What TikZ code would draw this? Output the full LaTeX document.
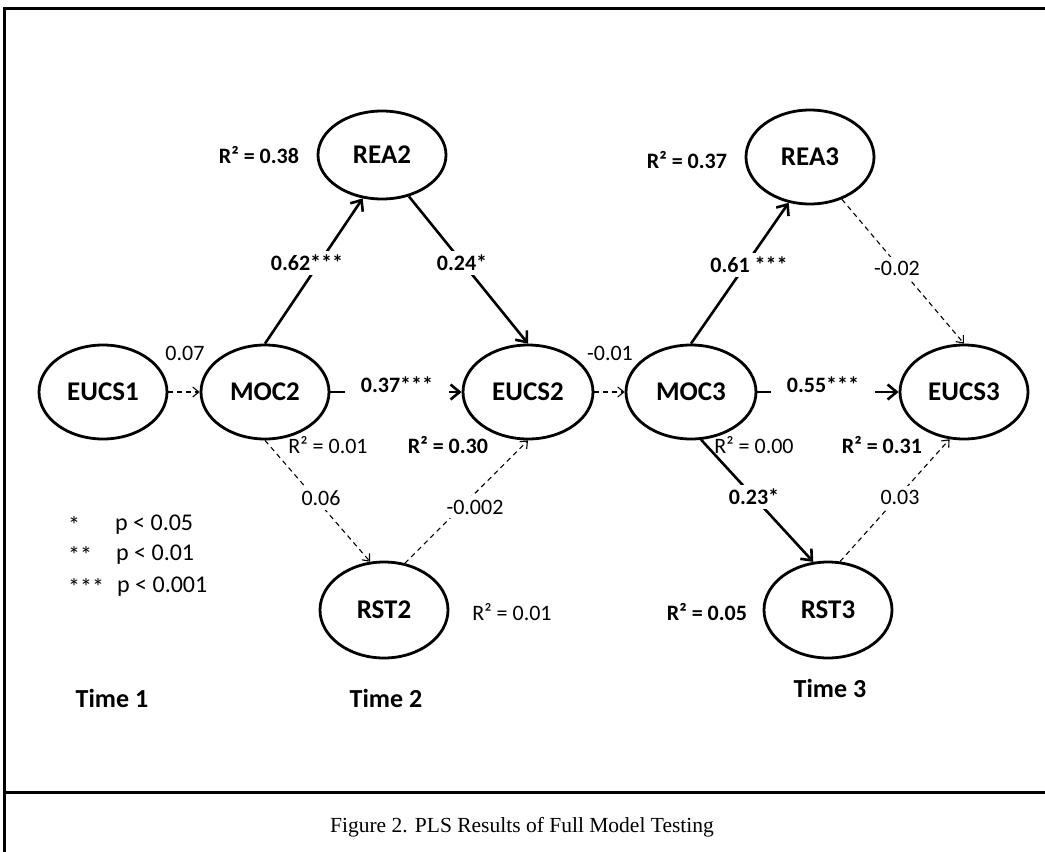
\documentclass[tikz,border=0pt]{standalone}
\usepackage{fontspec}
\setmainfont{Carlito}
\newfontfamily\capfont{Liberation Serif}
\usetikzlibrary{shapes.geometric,arrows.meta}
\begin{document}
\begin{tikzpicture}[x=1pt,y=-1pt,
  lv/.style={ellipse,draw,line width=2.8pt,minimum width=128pt,minimum height=94pt,inner sep=0pt,font=\fontsize{27}{30}\selectfont\bfseries},
  sig/.style={line width=2.6pt,-{Straight Barb[length=9pt,width=15pt,line width=2.6pt]}},
  ns/.style={line width=1.1pt,dash pattern=on 5pt off 4pt,-{Straight Barb[length=6pt,width=10pt,line width=1.1pt]}},
  bl/.style={font=\fontsize{22}{26}\selectfont\bfseries,inner sep=1pt},
  nl/.style={font=\fontsize{22}{26}\selectfont,inner sep=1pt},
  lg/.style={font=\fontsize{24}{28}\selectfont,inner sep=0pt,anchor=west},
  tm/.style={font=\fontsize{26}{30}\selectfont\bfseries,inner sep=0pt},
  gap/.style={fill=white,inner xsep=6pt,inner ysep=4pt},
 ]
\useasboundingbox (0,0) rectangle (1045,852);
% frame
\draw[line width=3pt] (1045,8) -- (4,8) -- (4,852);
\draw[line width=3pt] (4,792) -- (1045,792);
\node[font=\capfont\fontsize{21.5}{25}\selectfont,inner sep=0pt] (cap) at (522,827) {Figure 2. PLS Results of Full Model Testing};

% latent variables
\node[lv,minimum height=88pt] (rea2) at (382,155) {REA2};
\node[lv] (rea3) at (810,157) {REA3};
\node[lv] (eucs1) at (103,392) {EUCS1};
\node[lv] (moc2) at (265,392) {MOC2};
\node[lv,minimum width=130pt] (eucs2) at (528,392) {EUCS2};
\node[lv,minimum width=130pt] (moc3) at (691,392) {MOC3};
\node[lv] (eucs3) at (964,392) {EUCS3};
\node[lv,minimum height=96pt] (rst2) at (384,610) {RST2};
\node[lv,minimum height=96pt] (rst3) at (828,610) {RST3};

% paths
\draw[sig] (moc2.north) -- (rea2.246);
\draw[sig] (rea2.303) -- (eucs2.north);
\draw[sig] (moc3.north) -- (rea3.245);
\draw[ns] (rea3.307) -- (eucs3.north);
\draw[ns] (eucs1) -- (moc2);
\draw[sig] (moc2) -- (eucs2);
\draw[ns] (eucs2) -- (moc3);
\draw[sig] (moc3) -- (eucs3);
\draw[ns] (moc2.south) -- (rst2.106);
\draw[ns] (rst2.66) -- (eucs2.south);
\draw[sig] (moc3.282) -- (rst3.107);
\draw[ns] (rst3.76) -- (eucs3.253);

% path labels
\node[bl,gap] (l62) at (307,263) {0.62***};
\node[bl,gap] (l24) at (462,263) {0.24*};
\node[bl,gap] (l61) at (749,265) {0.61 ***};
\node[nl,gap] (l02) at (897,268) {-0.02};
\node[bl,gap,inner xsep=16pt] (l37) at (397,385) {0.37***};
\node[bl,gap,inner xsep=16pt] (l55) at (823,385) {0.55***};
\node[nl] (l07) at (185,353) {0.07};
\node[nl] (l01) at (610,353) {-0.01};
\node[nl,gap] (l06) at (321,498) {0.06};
\node[nl,gap] (l002) at (475,507) {-0.002};
\node[bl,gap] (l23) at (754,497) {0.23*};
\node[nl,gap] (l03) at (900,497) {0.03};

% R squared
\node[bl] (r38) at (259,155) {R² = 0.38};
\node[bl] (r37) at (687,160) {R² = 0.37};
\node[nl] (rm2) at (328,445) {R² = 0.01};
\node[bl] (re2) at (448,445) {R² = 0.30};
\node[nl] (rm3) at (754,445) {R² = 0.00};
\node[bl] (re3) at (882,445) {R² = 0.31};
\node[nl] (rr2) at (512,612) {R² = 0.01};
\node[bl] (rr3) at (707,612) {R² = 0.05};

% legend
\node[lg] (s1) at (68,525) {*};
\node[lg] (p1) at (115,525) {p < 0.05};
\node[lg] (s2) at (68,555) {**};
\node[lg] (p2) at (116,555) {p < 0.01};
\node[lg] (s3) at (68,587) {***};
\node[lg] (p3) at (117,587) {p < 0.001};

% time labels
\node[tm] (t1) at (112,698) {Time 1};
\node[tm] (t2) at (386,698) {Time 2};
\node[tm] (t3) at (830,688) {Time 3};
\end{tikzpicture}
\end{document}
